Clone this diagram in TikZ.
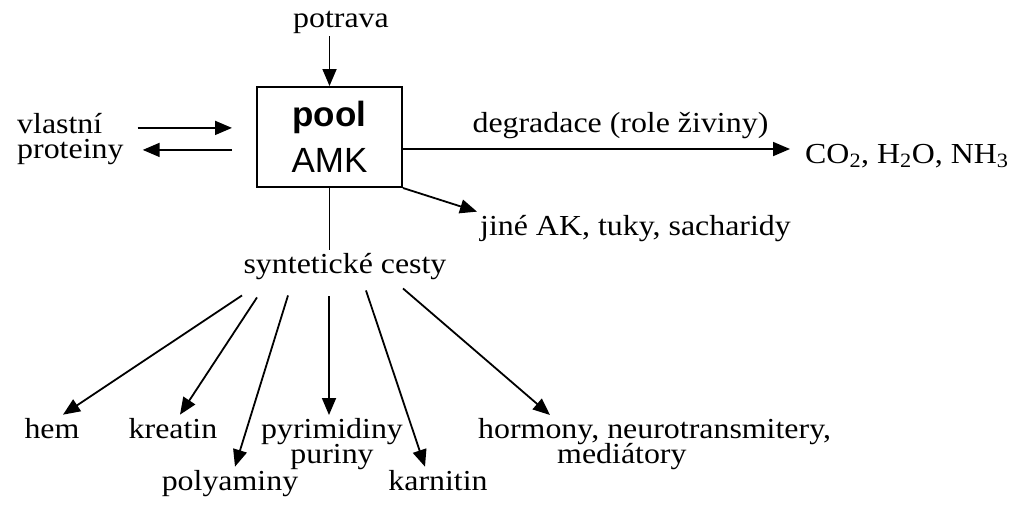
\documentclass[tikz,border=0pt]{standalone}
\usepackage{fontspec}
\setmainfont{Liberation Serif}[FakeStretch=1.1]
\setsansfont{Liberation Sans}
\usetikzlibrary{arrows.meta,positioning}

\newcommand{\labelfont}{\fontsize{29}{25}\selectfont\lineskiplimit=-20pt\relax}

\begin{document}
\begin{tikzpicture}[
    x=1pt, y=1pt,
    txt/.style={font=\labelfont, inner sep=3pt},
    poolbox/.style={rectangle, draw=black, line width=2pt, minimum width=145pt, minimum height=100pt, align=center, font=\sffamily\fontsize{35}{46}\selectfont},
    arrow/.style={-{Triangle[length=17pt,width=14pt]}, line width=1.8pt},
    link/.style={line width=1.8pt},
]
\useasboundingbox (0,0) rectangle (1021,-504);

% Pool
\node[poolbox] (pool) at (329.5,-137) {\textbf{pool}\\AMK};

% Inputs
\node[txt, anchor=base] (potrava) at (341,-27) {potrava};
\draw[arrow] (pool.north |- potrava.south) -- (pool.north);

\node[txt, anchor=north west, align=left] (own) at (14,-110) {vlastní\\proteiny};
\draw[arrow, shorten <=11pt, shorten >=24pt] ([yshift=11pt]own.east) -- ([yshift=11pt]own.east -| pool.west);
\draw[arrow, shorten <=24pt, shorten >=16pt] ([yshift=-11pt]own.east -| pool.west) -- ([yshift=-11pt]own.east);

% Degradation
\node[txt, anchor=base west] (prod) at (802,-163) {CO\textsubscript{2}, H\textsubscript{2}O, NH\textsubscript{3}};
\draw[arrow, shorten >=12pt] ([yshift=-12pt]pool.east) -- ([yshift=-12pt]pool.east -| prod.west)
    node[txt, pos=0.545, above=6pt] (deglbl) {degradace (role živiny)};

% Other products
\node[txt, anchor=base west] (other) at (477,-235) {jiné AK, tuky, sacharidy};
\draw[arrow] (pool.south east) -- (other.north west);

% Synthetic pathways
\node[txt, anchor=base] (syn) at (345,-273) {syntetické cesty};
\draw[link] (pool.south) -- (pool.south |- syn.north);

\node[txt, anchor=base] (hem) at (52,-438) {hem};
\node[txt, anchor=base] (kreatin) at (173,-438) {kreatin};
\node[txt, anchor=base] (polyam) at (230,-490) {polyaminy};
\node[txt, anchor=north, align=center] (pyrim) at (332,-415) {pyrimidiny\\puriny};
\node[txt, anchor=base] (karnit) at (438,-490) {karnitin};
\node[txt, anchor=north west, align=left] (hormon) at (475,-415) {hormony, neurotransmitery,\\\hspace*{79pt}mediátory};

\draw[arrow] ([xshift=-103pt,yshift=-13pt]syn.south) -- ([xshift=11pt]hem.north);
\draw[arrow] ([xshift=-88pt,yshift=-15pt]syn.south) -- ([xshift=7pt]kreatin.north);
\draw[arrow] ([xshift=-57pt,yshift=-13pt]syn.south) -- ([xshift=5pt]polyam.north);
\draw[arrow] ([xshift=-16pt,yshift=-14pt]syn.south) -- ([xshift=-3pt]pyrim.north);
\draw[arrow] ([xshift=21pt,yshift=-8pt]syn.south) -- ([xshift=-13pt]karnit.north);
\draw[arrow] ([xshift=58pt,yshift=-6pt]syn.south) -- ([xshift=75pt]hormon.north west);

\end{tikzpicture}
\end{document}
